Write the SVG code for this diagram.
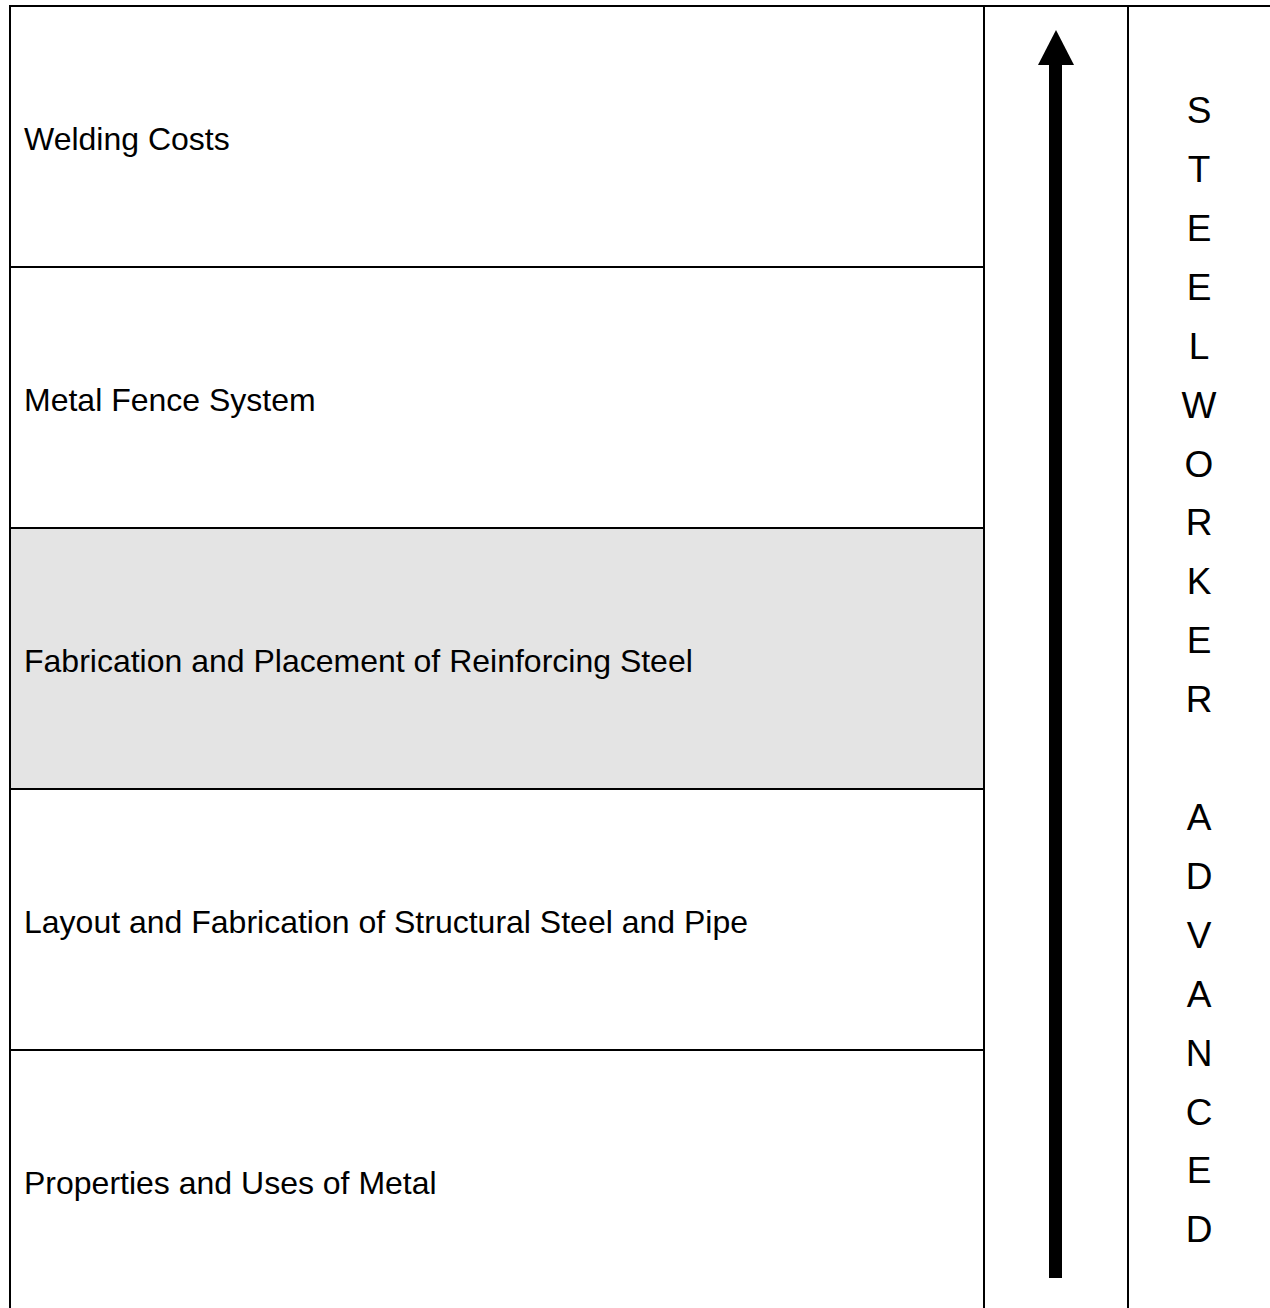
<svg xmlns="http://www.w3.org/2000/svg" width="1270" height="1308" viewBox="0 0 1270 1308">
<style>
.ln{stroke:#000;stroke-width:2;fill:none}
.lbl{font-family:"Liberation Sans",Arial,sans-serif;font-size:32px;fill:#000}
.v{font-family:"Liberation Sans",Arial,sans-serif;font-size:37px;fill:#000;text-anchor:middle}
</style>
<rect x="0" y="0" width="1270" height="1308" fill="#fff"/>
<rect x="11" y="529" width="972" height="259" fill="#e4e4e4"/>
<g id="grid">
<line class="ln" x1="10" y1="6" x2="1270" y2="6"/>
<line class="ln" x1="10" y1="5" x2="10" y2="1308"/>
<line class="ln" x1="984" y1="6" x2="984" y2="1308"/>
<line class="ln" x1="1128" y1="6" x2="1128" y2="1308"/>
<line class="ln" x1="10" y1="267" x2="984" y2="267"/>
<line class="ln" x1="10" y1="528" x2="984" y2="528"/>
<line class="ln" x1="10" y1="789" x2="984" y2="789"/>
<line class="ln" x1="10" y1="1050" x2="984" y2="1050"/>
</g>
<g id="row1"><text class="lbl" x="24" y="150">Welding Costs</text></g>
<g id="row2"><text class="lbl" x="24" y="411">Metal Fence System</text></g>
<g id="row3"><text class="lbl" x="24" y="672">Fabrication and Placement of Reinforcing Steel</text></g>
<g id="row4"><text class="lbl" x="24" y="933">Layout and Fabrication of Structural Steel and Pipe</text></g>
<g id="row5"><text class="lbl" x="24" y="1194">Properties and Uses of Metal</text></g>
<g id="connectors">
<rect x="1049" y="64" width="13" height="1214" fill="#000"/>
<polygon points="1038,65 1056,30 1074,65" fill="#000"/>
</g>
<g id="vertical-label">
<text class="v" x="1199" y="123">S</text>
<text class="v" x="1199" y="182">T</text>
<text class="v" x="1199" y="241">E</text>
<text class="v" x="1199" y="300">E</text>
<text class="v" x="1199" y="359">L</text>
<text class="v" x="1199" y="418">W</text>
<text class="v" x="1199" y="477">O</text>
<text class="v" x="1199" y="535">R</text>
<text class="v" x="1199" y="594">K</text>
<text class="v" x="1199" y="653">E</text>
<text class="v" x="1199" y="712">R</text>
<text class="v" x="1199" y="830">A</text>
<text class="v" x="1199" y="889">D</text>
<text class="v" x="1199" y="948">V</text>
<text class="v" x="1199" y="1007">A</text>
<text class="v" x="1199" y="1066">N</text>
<text class="v" x="1199" y="1125">C</text>
<text class="v" x="1199" y="1183">E</text>
<text class="v" x="1199" y="1242">D</text>
</g>
</svg>
